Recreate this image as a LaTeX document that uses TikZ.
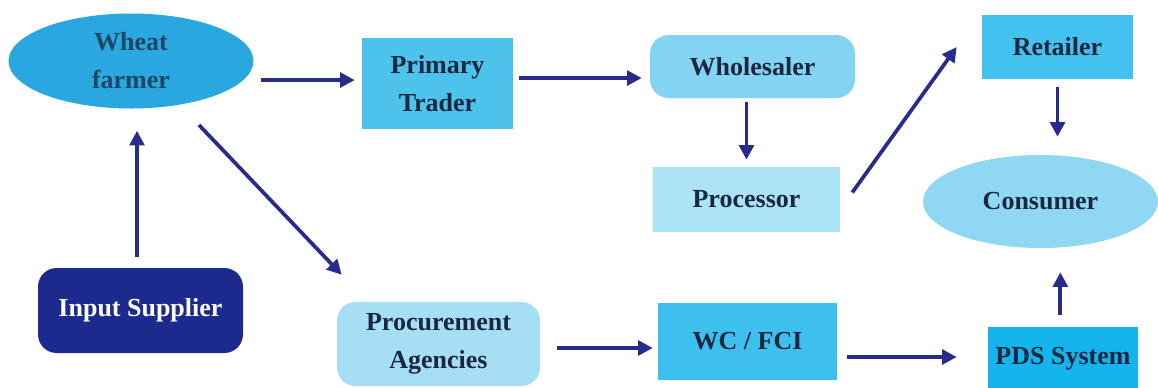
\documentclass[tikz,border=0pt]{standalone}
\usepackage{fontspec}
\setmainfont{Liberation Serif}
\usetikzlibrary{arrows.meta,shapes.geometric,calc}
\definecolor{farmerfill}{HTML}{2AA7DF}
\definecolor{supplierfill}{HTML}{1B2A8C}
\definecolor{primaryfill}{HTML}{4DC3EC}
\definecolor{procfill}{HTML}{A5DEF5}
\definecolor{wholefill}{HTML}{82D4F2}
\definecolor{processorfill}{HTML}{ADE3F7}
\definecolor{wcfill}{HTML}{3EC0EE}
\definecolor{pdsfill}{HTML}{13B5EC}
\definecolor{retailfill}{HTML}{43C2EF}
\definecolor{consfill}{HTML}{8FD7F3}
\definecolor{arrowcol}{HTML}{272C8C}
\definecolor{txtcol}{HTML}{1A2740}
\definecolor{farmtxt}{HTML}{1D4766}
\begin{document}
\begin{tikzpicture}[x=0.75pt,y=-0.75pt,
  base/.style={inner sep=0pt, align=center, text=txtcol,
    font=\fontsize{19.5}{28.5}\selectfont\bfseries},
  boxnode/.style={base, rectangle, draw=none},
  roundbox/.style={base, rectangle, rounded corners=14pt, draw=none},
  ovalnode/.style={base, ellipse, draw=none},
  arr/.style={draw=arrowcol, line width=2.8pt, -{Triangle[length=11pt,width=11pt]}}]
\useasboundingbox[fill=white] (0,0) rectangle (1158,387);

\node[ovalnode, fill=farmerfill, text=farmtxt, minimum width=183.75pt, minimum height=71.25pt] (farmer) at (131,61) {Wheat\\farmer};
\node[roundbox, fill=supplierfill, text=white, minimum width=153.75pt, minimum height=63.75pt] (supplier) at (140.5,310.5) {Input Supplier};
\node[boxnode, fill=primaryfill, minimum width=113.25pt, minimum height=68.25pt] (primary) at (437.5,83.5) {Primary\\Trader};
\node[roundbox, fill=procfill, minimum width=152.25pt, minimum height=63pt] (procure) at (438.5,344) {Procurement\\Agencies};
\node[roundbox, fill=wholefill, minimum width=153.75pt, minimum height=47.25pt] (whole) at (752.5,66.5) {Wholesaler};
\node[boxnode, fill=processorfill, minimum width=140.25pt, minimum height=48.75pt] (processor) at (746.5,199.5) {Processor};
\node[boxnode, fill=wcfill, minimum width=134.25pt, minimum height=57.75pt] (wc) at (747.5,341.5) {WC / FCI};
\node[boxnode, fill=pdsfill, minimum width=112.5pt, minimum height=48pt] (pds) at (1063,359) {PDS System};
\node[boxnode, fill=retailfill, minimum width=113.25pt, minimum height=48pt] (retail) at (1057.5,47) {Retailer};
\node[ovalnode, fill=consfill, minimum width=176.25pt, minimum height=69.75pt] (consumer) at (1040.5,201.5) {Consumer};

% connectors
\draw[arr, shorten <=8pt, shorten >=16.5pt] ([xshift=-2.6pt]supplier.north) -- ([xshift=-2.6pt]supplier.north |- farmer.south);
\draw[arr, shorten <=5.25pt, shorten >=5.25pt] ([yshift=2.6pt]farmer.east |- primary.west) -- ([yshift=2.6pt]primary.west);
\draw[arr] ($(farmer.center)+(68,64)$) -- ($(procure.north west)+(5,-27)$);
\draw[arr, shorten <=4.5pt, shorten >=6pt] ([yshift=4.1pt]primary.east) -- ([yshift=4.1pt]primary.east -| whole.west);
\draw[arr, shorten <=3pt, shorten >=5.25pt] (processor.north |- whole.south) -- (processor.north);
\draw[arr] ($(processor.east)+(12,-7)$) -- ($(retail.west)+(-25,0)$);
\draw[arr, shorten <=6pt, shorten >=13.5pt] (retail.south) -- (retail.south |- consumer.north);
\draw[arr, shorten <=9pt, shorten >=18pt] ([xshift=-2pt]pds.north) -- ([xshift=-2pt]pds.north |- consumer.south);
\draw[arr, shorten <=12.75pt, shorten >=3.75pt] ([yshift=-3pt]procure.east) -- ([yshift=-3pt]procure.east -| wc.west);
\draw[arr, shorten <=7.5pt, shorten >=23.25pt] ([yshift=1.5pt]pds.west -| wc.east) -- ([yshift=1.5pt]pds.west);
\end{tikzpicture}
\end{document}
